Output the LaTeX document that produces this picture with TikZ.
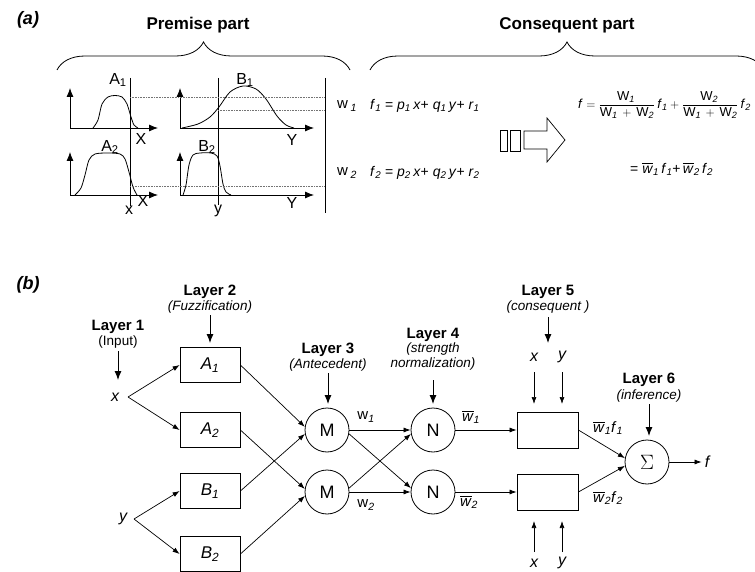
\documentclass[tikz,border=0pt]{standalone}
\usepackage{amsmath}
\usepackage{fontspec}
\setmainfont{Liberation Sans}
\usetikzlibrary{arrows.meta,decorations.pathreplacing}
\newcommand\sbs[1]{\textsubscript{\textit{#1}}}
\newcommand\wb{\ensuremath{\overline{\mbox{\textit{w}}}}}
\newcommand\Wx[1]{\mbox{W\textsubscript{\textit{#1}}}}
\begin{document}
\begin{tikzpicture}[x=1pt,y=-1pt,
  every node/.style={inner sep=0pt},
  ax/.style={-{Latex[length=9pt,width=7pt]},line width=0.8pt},
  mf/.style={line width=0.8pt},
  dotl/.style={densely dotted,line width=0.6pt,black!55},
  vl/.style={line width=0.7pt},
  tag/.style={font=\fontsize{18}{20}\selectfont\bfseries\itshape},
  part/.style={font=\fontsize{17}{19}\selectfont\bfseries},
  lbl/.style={font=\fontsize{16}{18}\selectfont},
  brc/.style={decorate,decoration={brace,amplitude=28pt},line width=0.8pt},
  frm/.style={font=\fontsize{14}{16}\selectfont,anchor=west},
  layer/.style={font=\fontsize{15}{17}\selectfont\bfseries},
  subl/.style={font=\fontsize{13.5}{15}\selectfont\itshape,align=center},
  box/.style={draw,minimum width=60pt,minimum height=35pt,line width=0.8pt,font=\fontsize{17}{19}\selectfont\itshape},
  neuron/.style={draw,circle,minimum size=44pt,line width=0.8pt,font=\fontsize{18}{20}\selectfont},
  edge/.style={-{Latex[length=7pt,width=5pt]},line width=0.7pt},
  down/.style={-{Latex[length=9pt,width=7pt]},line width=0.9pt},
  var/.style={font=\fontsize{16}{18}\selectfont\itshape},
  wl/.style={font=\fontsize{15}{17}\selectfont},
]
\useasboundingbox (0,0) rectangle (755,572);
\clip (0,0) rectangle (755,572);

% ---------- part (a) ----------
\node[tag] (ta) at (28,20) {(a)};
\node[part] (pp) at (198,25) {Premise part};
\node[part] (cp) at (567,25) {Consequent part};
\draw[brc] (57,70) -- (350,70);
\draw[brc] (370,70) -- (764,70);

% axes
\draw[ax] (70,128) -- (70,88);   \draw[ax] (70,128) -- (158,128);
\draw[ax] (180,128) -- (180,88); \draw[ax] (180,128) -- (314,128);
\draw[ax] (70,195) -- (70,152);  \draw[ax] (70,195) -- (158,195);
\draw[ax] (180,195) -- (180,152);\draw[ax] (180,195) -- (314,195);

% membership functions
\draw[mf] plot[smooth] coordinates {(93,128) (98,120) (102,104) (108,97) (115,95.5) (122,97) (127,104) (131,117) (134,125) (138,128)};
\draw[mf] plot[smooth] coordinates {(182,128) (198,124) (210,117) (219,107) (230,92) (243,86) (256,89) (266,99) (277,116) (286,125) (294,128)};
\draw[mf] plot[smooth] coordinates {(75,195) (81,188) (85,175) (89,160) (95,154) (108,153) (120,154) (125,159) (129,172) (133,187) (137,195)};
\draw[mf] plot[smooth] coordinates {(183,195) (186,185) (189,165) (193,155) (200,153) (211,153) (217,156) (220,166) (223,184) (226,192) (231,195)};

% vertical lines and dotted levels
\draw[vl] (130,78) -- (130,206);
\draw[vl] (218,78) -- (218,205);
\draw[vl] (325,78) -- (325,213);
\draw[dotl] (130,97) -- (325,97);
\draw[dotl] (218,110) -- (325,110);
\draw[dotl] (130,186) -- (325,186);

% plot labels
\node[lbl] (la1) at (118,80) {A\textsubscript{1}};
\node[lbl] (lb1) at (245,80) {B\textsubscript{1}};
\node[lbl] (la2) at (110,147) {A\textsubscript{2}};
\node[lbl] (lb2) at (207,147) {B\textsubscript{2}};
\node[lbl] (lx1) at (141,139) {X};
\node[lbl] (ly1) at (292,140) {Y};
\node[lbl] (lx2) at (143,201) {X};
\node[lbl] (ly2) at (292,203) {Y};
\node[lbl] (lxs) at (129,210) {x};
\node[lbl] (lys) at (218,211) {y};
\node[wl] (w1a) at (347,106) {w\,\sbs{1}};
\node[wl] (w2a) at (347,173) {w\,\sbs{2}};

% rules
\node[frm] (f1) at (370,106) {\textit{f}\sbs{1} = \textit{p}\sbs{1}\,\textit{x}+ \textit{q}\sbs{1}\,\textit{y}+ \textit{r}\sbs{1}};
\node[frm] (f2) at (370,173) {\textit{f}\sbs{2} = \textit{p}\sbs{2}\,\textit{x}+ \textit{q}\sbs{2}\,\textit{y}+ \textit{r}\sbs{2}};

% hollow arrow
\draw[line width=0.7pt] (500,130) rectangle (507,151);
\draw[line width=0.7pt] (510,130) rectangle (520,151);
\draw[line width=0.7pt] (524,131) -- (547,131) -- (547,118) -- (565,140) -- (547,162) -- (547,149) -- (524,149) -- cycle;

% output formula
\node[frm,font=\fontsize{13}{15}\selectfont] (ff) at (578,105) {$\mbox{\textit{f}} = \dfrac{\Wx{1}\,}{\Wx{1}\,+\,\Wx{2}}\,\mbox{\textit{f}\sbs{1}} + \dfrac{\Wx{2}\,}{\Wx{1}\,+\,\Wx{2}}\,\mbox{\textit{f}\sbs{2}}$};
\node[frm] (fw) at (630,169) {= \wb\sbs{1}\,\textit{f}\sbs{1}+\,\wb\sbs{2}\,\textit{f}\sbs{2}};

% ---------- part (b) ----------
\node[tag] (tb) at (28,285) {(b)};

% layer 1
\node[layer] (L1) at (118,327) {Layer 1};
\node[subl,font=\fontsize{13.5}{15}\selectfont] (L1s) at (118,342) {(Input)};
\coordinate (L1e) at (118,380);
\draw[down] (118,351) -- (L1e);
\node[var] (x) at (115,397) {x};
\node[var] (y) at (123,519) {y};
\coordinate (xo) at (128,397);
\coordinate (yo) at (134,519);

% layer 2
\node[layer] (L2) at (210,292) {Layer 2};
\node[subl] (L2s) at (210,307) {(Fuzzification)};
\node[box] (A1) at (210,365) {A\sbs{1}};
\node[box] (A2) at (210,430) {A\sbs{2}};
\node[box] (B1) at (210,491) {B\sbs{1}};
\node[box] (B2) at (210,554) {B\sbs{2}};
\coordinate (L2e) at (210,343);
\draw[down] (210,315) -- (L2e);

\draw[edge] (xo) -- (A1.west);
\draw[edge] (xo) -- (A2.west);
\draw[edge] (yo) -- (B1.west);
\draw[edge] (yo) -- (B2.west);

% layer 3
\node[layer] (L3) at (328,350) {Layer 3};
\node[subl] (L3s) at (328,365) {(Antecedent)};
\coordinate (L3e) at (328,404);
\draw[down] (328,373) -- (L3e);
\node[neuron] (M1) at (327,430) {M};
\node[neuron] (M2) at (327,492) {M};
\draw[edge] (A1.east) -- (M1.172);
\draw[edge] (B1.east) -- (M1.190);
\draw[edge] (A2.east) -- (M2.172);
\draw[edge] (B2.east) -- (M2.190);
\node[wl] (w1) at (366,417) {w\sbs{1}};
\node[wl] (w2) at (366,505) {w\sbs{2}};

% layer 4
\node[layer] (L4) at (433,335) {Layer 4};
\node[subl] (L4s) at (433,357) {(strength\\normalization)};
\coordinate (L4e) at (433,404);
\draw[down] (433,380) -- (L4e);
\node[neuron] (N1) at (433,430) {N};
\node[neuron] (N2) at (433,492) {N};
\draw[edge] (M1.east) -- (N1.west);
\draw[edge] (M1.-10) -- (N2.170);
\draw[edge] (M2.10) -- (N1.190);
\draw[edge] (M2.east) -- (N2.west);
\node[wl] (wb1) at (471,417) {\wb\sbs{1}};
\node[wl] (wb2) at (469,502) {\wb\sbs{2}};

% layer 5
\node[layer] (L5) at (548,292) {Layer 5};
\node[subl] (L5s) at (548,307) {(consequent )};
\coordinate (L5e) at (548,343);
\draw[down] (548,317) -- (L5e);
\node[box,minimum width=61pt,minimum height=36pt] (C1) at (547.5,430) {};
\node[box,minimum width=61pt,minimum height=36pt] (C2) at (547.5,492) {};
\node[var] (cx1) at (534,357) {x};
\node[var] (cy1) at (562,357) {y};
\node[var] (cx2) at (534,563) {x};
\node[var] (cy2) at (562,563) {y};
\coordinate (cx1e) at (534,404);
\coordinate (cy1e) at (562,404);
\coordinate (cx2e) at (534,521);
\coordinate (cy2e) at (562,521);
\draw[edge] (534,372) -- (cx1e);
\draw[edge] (562,372) -- (cy1e);
\draw[edge] (534,552) -- (cx2e);
\draw[edge] (562,552) -- (cy2e);
\draw[edge] (N1.east) -- (C1.west);
\draw[edge] (N2.east) -- (C2.west);
\node[wl] (wf1) at (608,428) {\wb\sbs{1}\textit{f}\sbs{1}};
\node[wl] (wf2) at (608,498) {\wb\sbs{2}\textit{f}\sbs{2}};

% layer 6
\node[layer] (L6) at (649,380) {Layer 6};
\node[subl] (L6s) at (649,396) {(inference)};
\coordinate (L6e) at (649,436);
\draw[down] (649,404) -- (L6e);
\node[neuron,font=\fontsize{20}{22}\selectfont] (S) at (647,462) {$\Sigma$};
\draw[edge] (C1.east) -- (S.170);
\draw[edge] (C2.east) -- (S.190);
\node[var] (f) at (707,462) {f};
\draw[edge,shorten >=3pt] (S.east) -- (f.west);
\end{tikzpicture}
\end{document}
